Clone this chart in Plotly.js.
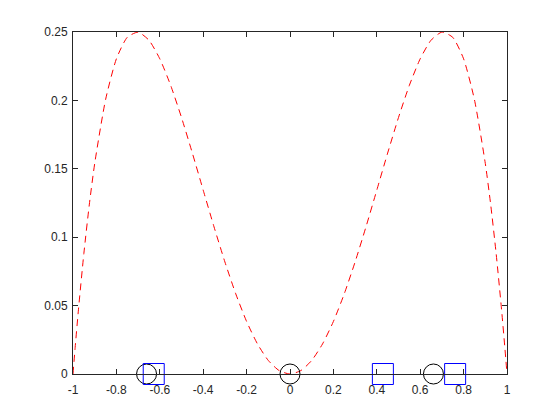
<!DOCTYPE html>
<html>
<head>
<meta charset="utf-8">
<script src="https://cdn.plot.ly/plotly-3.0.1.min.js"></script>
<style>
  html, body { margin: 0; padding: 0; background: #fff; }
  #plot { width: 560px; height: 420px; }
</style>
</head>
<body>
<div id="plot"></div>
<script>
// dashed red curve
var curveX = [-1, -0.99, -0.975, -0.95, -0.925, -0.9, -0.85, -0.8, -0.75, -0.7, -0.65, -0.6, -0.55, -0.5,
  -0.45, -0.4, -0.35, -0.3, -0.25, -0.2, -0.15, -0.1, -0.05, 0,
  0.05, 0.1, 0.15, 0.2, 0.25, 0.3, 0.35, 0.4, 0.45, 0.5, 0.55, 0.6, 0.65, 0.7, 0.75, 0.8, 0.85,
  0.9, 0.925, 0.95, 0.975, 0.99, 1];
var curveY = [0, 0.0195, 0.0469, 0.0880, 0.1236, 0.1539, 0.2005, 0.2304, 0.2461, 0.2499, 0.2440, 0.2304, 0.2110, 0.1875,
  0.1615, 0.1344, 0.1075, 0.0819, 0.0586, 0.0384, 0.0220, 0.0099, 0.0025, 0,
  0.0025, 0.0099, 0.0220, 0.0384, 0.0586, 0.0819, 0.1075, 0.1344, 0.1615, 0.1875, 0.2110, 0.2304, 0.2440, 0.2499, 0.2461, 0.2304, 0.2005,
  0.1539, 0.1236, 0.0880, 0.0469, 0.0195, 0];

// black circles and blue squares on the x axis
var circleX = [-0.661, 0, 0.661];
var circleY = [0, 0, 0];
var squareX = [-0.628, 0.428, 0.761];
var squareY = [0, 0, 0];

var xTicks = [-1, -0.8, -0.6, -0.4, -0.2, 0, 0.2, 0.4, 0.6, 0.8, 1];
var xTickText = ["-1", "-0.8", "-0.6", "-0.4", "-0.2", "0", "0.2", "0.4", "0.6", "0.8", "1"];
var yTicks = [0, 0.05, 0.1, 0.15, 0.2, 0.25];
var yTickText = ["0", "0.05", "0.1", "0.15", "0.2", "0.25"];

var traces = [
  {
    x: curveX, y: curveY, type: "scatter", mode: "lines",
    line: { color: "#ff0000", width: 1, dash: "7px,5px", shape: "spline", smoothing: 0.6 },
    cliponaxis: false, hoverinfo: "skip"
  },
  {
    x: circleX, y: circleY, type: "scatter", mode: "markers",
    marker: { symbol: "circle-open", size: 20, color: "#000000", line: { width: 1, color: "#000000" } },
    cliponaxis: false
  },
  {
    x: squareX, y: squareY, type: "scatter", mode: "markers",
    marker: { symbol: "square-open", size: 21, color: "#0000ff", line: { width: 1, color: "#0000ff" } },
    cliponaxis: false
  }
];

var axisCommon = {
  showline: true, linecolor: "#262626", linewidth: 1, mirror: "ticks",
  ticks: "inside", ticklen: 5, tickcolor: "#262626", tickwidth: 1,
  showgrid: false, zeroline: false,
  tickfont: { family: "Liberation Sans, Arial, sans-serif", size: 12, color: "#262626" }
};

var layout = {
  width: 560, height: 420,
  margin: { l: 73, r: 53, t: 32, b: 46 },
  paper_bgcolor: "#ffffff", plot_bgcolor: "#ffffff",
  showlegend: false,
  xaxis: Object.assign({}, axisCommon, {
    range: [-1, 1], tickmode: "array", tickvals: xTicks, ticktext: xTickText, ticklabelstandoff: 5
  }),
  yaxis: Object.assign({}, axisCommon, {
    range: [0, 0.25], tickmode: "array", tickvals: yTicks, ticktext: yTickText, ticklabelstandoff: 2
  })
};

Plotly.newPlot("plot", traces, layout, { staticPlot: true, displayModeBar: false });
</script>
</body>
</html>
